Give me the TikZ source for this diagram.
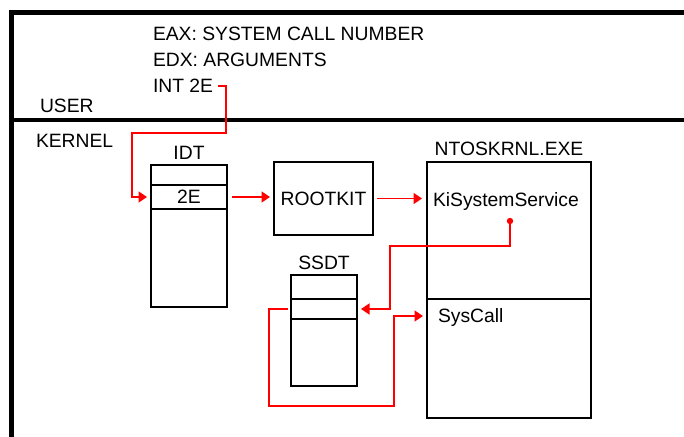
\documentclass[tikz,border=0pt]{standalone}
\usepackage{fontspec}
\setmainfont{Liberation Sans}
\usetikzlibrary{arrows.meta}
\tikzset{
  frameline/.style={line width=4.8pt, black},
  cell/.style={draw, line width=1.8pt, rectangle, inner sep=0pt, outer sep=0pt},
  lbl/.style={inner sep=0pt, outer sep=0pt, font=\fontsize{19.3}{22}\selectfont},
  redline/.style={draw=red, line width=1.6pt},
  redarr/.style={redline, -{Triangle[length=8.5pt,width=11pt]}},
}
\begin{document}
\begin{tikzpicture}[x=1pt,y=-1pt]
\useasboundingbox (0,0) rectangle (684,436);
% frame
\draw[frameline] (690,12.5) -- (11.5,12.5) -- (11.5,442);
\draw[frameline] (11.5,120) -- (690,120);
% user texts
\node[lbl, anchor=base west] (eax) at (153,40.5) {EAX: SYSTEM CALL NUMBER};
\node[lbl, anchor=base west] (edx) at (153,66.5) {EDX: ARGUMENTS};
\node[lbl, anchor=base west] (int2e) at (153,92.5) {INT 2E};
\node[lbl, anchor=base west] (user) at (40,112.5) {USER};
\node[lbl, anchor=base west] (kernel) at (36,147.5) {KERNEL};
% IDT
\node[lbl, anchor=base] (idtlbl) at (189,159) {IDT};
\node[cell, minimum width=76pt, minimum height=20pt] (idt1) at (189,175) {};
\node[cell, minimum width=76pt, minimum height=24pt, lbl] (idt2) at (189,197) {2E};
\node[cell, minimum width=76pt, minimum height=98pt] (idt3) at (189,258) {};
% ROOTKIT
\node[cell, minimum width=99pt, minimum height=73pt, lbl] (rootkit) at (323.5,198.5) {ROOTKIT};
% NTOSKRNL
\node[lbl, anchor=base] (ntoslbl) at (509,155) {NTOSKRNL.EXE};
\node[cell, minimum width=164pt, minimum height=137pt] (ntos1) at (509,230.5) {};
\node[cell, minimum width=164pt, minimum height=119pt] (ntos2) at (509,358.5) {};
\node[lbl, anchor=base west] (kiss) at (433,206) {KiSystemService};
\node[lbl, anchor=base west] (syscall) at (438,322) {SysCall};
% SSDT
\node[lbl, anchor=base] (ssdtlbl) at (324,269) {SSDT};
\node[cell, minimum width=66pt, minimum height=24pt] (s1) at (324,287) {};
\node[cell, minimum width=66pt, minimum height=20pt] (s2) at (324,309) {};
\node[cell, minimum width=66pt, minimum height=67pt] (s3) at (324,352.5) {};
% red connectors
\draw[redarr] ([xshift=5pt]int2e.east) -| (226,133) -| (132,197) -- ([xshift=-4pt]idt2.west);
\draw[redarr] ([xshift=5pt]idt2.east) -- ([xshift=-4pt]idt2.east -| rootkit.west);
\draw[redarr] ([xshift=4pt]rootkit.east) -- ([xshift=-5pt]rootkit.east -| ntos1.west);
\coordinate (dot) at (510,221);
\coordinate (scbend) at (394,316);
\fill[red] (dot) circle (3.2pt);
\draw[redarr] (dot) |- (390,246) |- ([xshift=4pt]s2.east);
\draw[redarr] ([xshift=-3pt]s2.west) -| (269,406) -| (scbend) -- ([xshift=-15pt]syscall.west |- scbend);
\end{tikzpicture}
\end{document}
